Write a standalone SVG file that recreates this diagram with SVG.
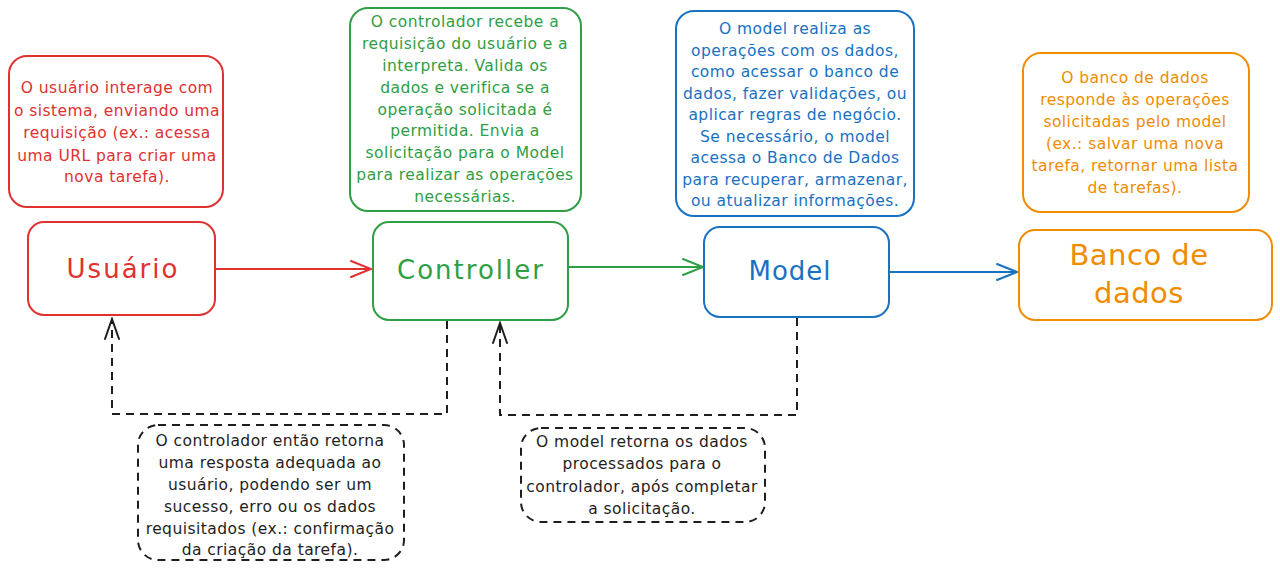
<svg xmlns="http://www.w3.org/2000/svg" width="1280" height="571" viewBox="0 0 1280 571">
<defs>
<style>
.box{fill:#ffffff;stroke-width:2;stroke-linejoin:round}
.red{stroke:#e03131}.green{stroke:#2f9e44}.blue{stroke:#1971c2}.orange{stroke:#f08c00}
.dash{fill:none;stroke:#1e1e1e;stroke-width:2;stroke-dasharray:8 6}
.note{font-family:"DejaVu Sans",sans-serif;font-size:15.5px;letter-spacing:0.45px;text-anchor:middle}
.lbl{font-family:"DejaVu Sans",sans-serif;text-anchor:middle}
.tr{fill:#e03131}.tg{fill:#2f9e44}.tb{fill:#1971c2}.to{fill:#f08c00}.tk{fill:#1e1e1e}
.conn{fill:none;stroke-width:2.2}
</style>
<marker id="mr" markerUnits="userSpaceOnUse" markerWidth="24" markerHeight="20" refX="22" refY="10" orient="auto" viewBox="0 0 24 20"><path d="M2,2 L22,10 L2,18" fill="none" stroke="#e03131" stroke-width="2" stroke-linecap="round"/></marker>
<marker id="mg" markerUnits="userSpaceOnUse" markerWidth="24" markerHeight="20" refX="22" refY="10" orient="auto" viewBox="0 0 24 20"><path d="M2,2 L22,10 L2,18" fill="none" stroke="#2f9e44" stroke-width="2" stroke-linecap="round"/></marker>
<marker id="mb" markerUnits="userSpaceOnUse" markerWidth="24" markerHeight="20" refX="22" refY="10" orient="auto" viewBox="0 0 24 20"><path d="M2,2 L22,10 L2,18" fill="none" stroke="#1971c2" stroke-width="2" stroke-linecap="round"/></marker>
<marker id="mk" markerUnits="userSpaceOnUse" markerWidth="24" markerHeight="20" refX="22" refY="10" orient="auto" viewBox="0 0 24 20"><path d="M2,3 L22,10 L2,17" fill="none" stroke="#1e1e1e" stroke-width="2" stroke-linecap="round"/></marker>
</defs>
<rect width="1280" height="571" fill="#ffffff"/>

<g id="connectors">
<path class="conn" d="M215,269 L371,269" stroke="#e03131" marker-end="url(#mr)"/>
<path class="conn" d="M568,267 L703,267" stroke="#2f9e44" marker-end="url(#mg)"/>
<path class="conn" d="M889,272 L1017,272" stroke="#1971c2" stroke-width="3" marker-end="url(#mb)"/>
<path class="dash" d="M447,321 L447,414 L112,414 L112,319" marker-end="url(#mk)"/>
<path class="dash" d="M797,318 L797,415 L500,415 L500,323" marker-end="url(#mk)"/>
</g>

<g id="note-usuario">
<rect class="box red" x="9" y="56" width="214" height="151" rx="18"/>
<text class="note tr"><tspan x="117" y="93">O usuário interage com</tspan><tspan x="117" y="115.5">o sistema, enviando uma</tspan><tspan x="117" y="138">requisição (ex.: acessa</tspan><tspan x="117" y="160.5">uma URL para criar uma</tspan><tspan x="117" y="182">nova tarefa).</tspan></text>
</g>

<g id="note-controller">
<rect class="box green" x="350" y="8" width="231" height="203" rx="18"/>
<text class="note tg"><tspan x="465" y="27">O controlador recebe a</tspan><tspan x="465" y="49">requisição do usuário e a</tspan><tspan x="465" y="71">interpreta. Valida os</tspan><tspan x="465" y="93">dados e verifica se a</tspan><tspan x="465" y="114.5">operação solicitada é</tspan><tspan x="465" y="136">permitida. Envia a</tspan><tspan x="465" y="158">solicitação para o Model</tspan><tspan x="465" y="180">para realizar as operações</tspan><tspan x="465" y="201.5">necessárias.</tspan></text>
</g>

<g id="note-model">
<rect class="box blue" x="676" y="11" width="238" height="205" rx="18"/>
<text class="note tb"><tspan x="795" y="34">O model realiza as</tspan><tspan x="795" y="55.5">operações com os dados,</tspan><tspan x="795" y="77">como acessar o banco de</tspan><tspan x="795" y="98.5">dados, fazer validações, ou</tspan><tspan x="795" y="120">aplicar regras de negócio.</tspan><tspan x="795" y="141.5">Se necessário, o model</tspan><tspan x="795" y="163">acessa o Banco de Dados</tspan><tspan x="795" y="184.5">para recuperar, armazenar,</tspan><tspan x="795" y="206">ou atualizar informações.</tspan></text>
</g>

<g id="note-banco">
<rect class="box orange" x="1023" y="53" width="226" height="159" rx="18"/>
<text class="note to"><tspan x="1135" y="83">O banco de dados</tspan><tspan x="1135" y="105">responde às operações</tspan><tspan x="1135" y="127">solicitadas pelo model</tspan><tspan x="1135" y="149">(ex.: salvar uma nova</tspan><tspan x="1135" y="171">tarefa, retornar uma lista</tspan><tspan x="1135" y="193">de tarefas).</tspan></text>
</g>

<g id="usuario">
<rect class="box red" x="28" y="222" width="187" height="93" rx="16"/>
<text class="lbl tr" x="123" y="278" font-size="26" letter-spacing="2">Usuário</text>
</g>

<g id="controller">
<rect class="box green" x="373" y="222" width="195" height="98" rx="16"/>
<text class="lbl tg" x="471" y="279" font-size="26" letter-spacing="2">Controller</text>
</g>

<g id="model">
<rect class="box blue" x="704" y="227" width="185" height="90" rx="16"/>
<text class="lbl tb" x="790" y="280" font-size="26" letter-spacing="1">Model</text>
</g>

<g id="banco">
<rect class="box orange" x="1019" y="230" width="253" height="90" rx="16"/>
<text class="lbl to" font-size="29" letter-spacing="0.5"><tspan x="1139" y="265">Banco de</tspan><tspan x="1139" y="303">dados</tspan></text>
</g>

<g id="note-retorno-controller">
<rect class="dash" x="138" y="425" width="266" height="135" rx="20"/>
<text class="note tk"><tspan x="270" y="446">O controlador então retorna</tspan><tspan x="270" y="468">uma resposta adequada ao</tspan><tspan x="270" y="490">usuário, podendo ser um</tspan><tspan x="270" y="511.5">sucesso, erro ou os dados</tspan><tspan x="270" y="533.5">requisitados (ex.: confirmação</tspan><tspan x="270" y="555">da criação da tarefa).</tspan></text>
</g>

<g id="note-retorno-model">
<rect class="dash" x="521" y="428" width="244" height="94" rx="20"/>
<text class="note tk"><tspan x="642" y="447">O model retorna os dados</tspan><tspan x="642" y="469">processados para o</tspan><tspan x="642" y="491.5">controlador, após completar</tspan><tspan x="642" y="514">a solicitação.</tspan></text>
</g>
</svg>
